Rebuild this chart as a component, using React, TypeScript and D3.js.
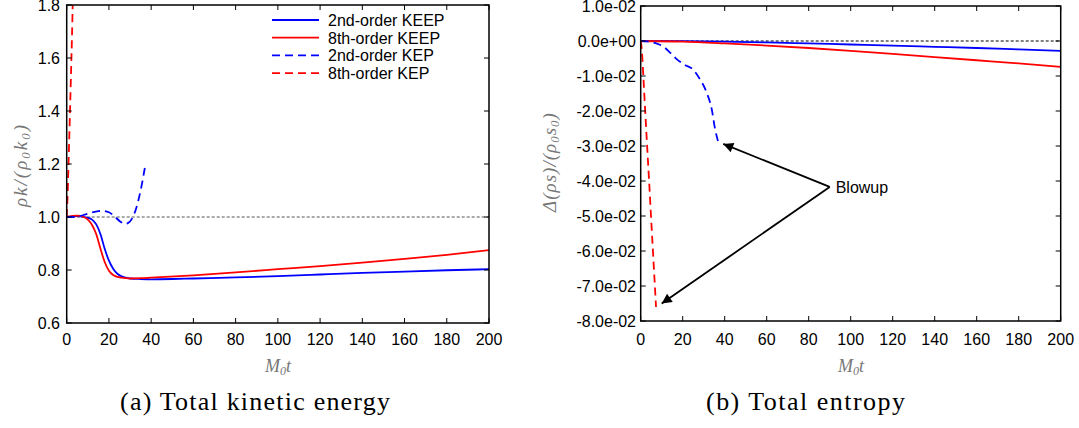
import React from "react";
import * as d3 from "d3";

// ---------- Data ----------
// Panel (a): total kinetic energy
const keT2 = [0, 5, 10, 12, 14, 16, 18, 20, 22, 24, 26, 28, 30, 35, 40, 50, 60, 80, 100, 120, 140, 160, 180, 200];
const keKEEP2 = [1.0, 1.003, 0.997, 0.99, 0.972, 0.935, 0.88, 0.835, 0.805, 0.786, 0.776, 0.771, 0.768, 0.766, 0.765, 0.766, 0.768, 0.772, 0.777, 0.783, 0.789, 0.794, 0.799, 0.803];
const keT8 = [0, 5, 8, 10, 12, 14, 16, 18, 20, 22, 24, 26, 28, 30, 35, 40, 60, 80, 100, 120, 140, 160, 180, 200];
const keKEEP8 = [1.0, 1.005, 1.0, 0.99, 0.97, 0.935, 0.88, 0.83, 0.797, 0.781, 0.774, 0.771, 0.769, 0.768, 0.769, 0.771, 0.78, 0.791, 0.803, 0.815, 0.828, 0.842, 0.857, 0.875];
const keTKEP2 = [0, 3, 6, 9, 12, 15, 17, 20, 23, 25, 27.5, 29, 31, 33, 35, 37];
const keKEP2 = [1.0, 1.0, 1.003, 1.01, 1.017, 1.022, 1.023, 1.018, 1.0, 0.985, 0.974, 0.977, 0.995, 1.035, 1.1, 1.185];
const keTKEP8 = [0, 0.5, 1, 1.5, 2, 2.5, 3];
const keKEP8 = [1.0, 1.1, 1.24, 1.38, 1.53, 1.68, 1.86];
const keYTicks = [0.6, 0.8, 1.0, 1.2, 1.4, 1.6, 1.8];

// Panel (b): total entropy (units of 1e-2)
const enTKEEP = [0, 20, 40, 60, 80, 100, 120, 140, 160, 180, 200];
const enKEEP2 = [0, -0.005, -0.02, -0.04, -0.07, -0.1, -0.13, -0.165, -0.2, -0.24, -0.28];
const enKEEP8 = [0, -0.02, -0.07, -0.13, -0.2, -0.28, -0.37, -0.46, -0.55, -0.64, -0.74];
const enTKEP2 = [0, 3, 5, 8, 10.6, 14, 17, 21, 25, 28.2, 31.4, 33.8, 35.4, 37];
const enKEP2 = [0, -0.01, -0.03, -0.08, -0.15, -0.33, -0.51, -0.68, -0.82, -1.09, -1.47, -1.94, -2.51, -2.9];
const enTKEP8 = [0, 0.6, 1.25, 2.5, 4, 5, 6.2, 7.3];
const enKEP8 = [0, -0.3, -1.0, -2.4, -4.0, -5.1, -6.4, -7.6];
const enYTicks = [1, 0, -1, -2, -3, -4, -5, -6, -7, -8];

const xTicks = [0, 20, 40, 60, 80, 100, 120, 140, 160, 180, 200];

const legendLabels = ["2nd-order KEEP", "8th-order KEEP", "2nd-order KEP", "8th-order KEP"];

// arrows: tail (t, v) -> head (t, v), v in 1e-2
const arrowTail = [90, -4.17];
const arrowHeads = [[39.3, -2.94], [10, -7.5]];

const BLUE = "#0000ff";
const RED = "#ff0000";

type Series = { t: number[]; v: number[]; color: string; dash?: string };

function Panel(props: {
  x0: number; x1: number; y0: number; y1: number;
  yDomain: [number, number]; yTicks: number[]; fmt: (v: number) => string;
  series: Series[]; refValue: number; refColor: string; id: string;
  labelRight: number; children?: React.ReactNode;
  extra?: (xs: d3.ScaleLinear<number, number>, ys: d3.ScaleLinear<number, number>) => React.ReactNode;
}) {
  const { x0, x1, y0, y1 } = props;
  const xs = d3.scaleLinear().domain([0, 200]).range([x0, x1]);
  const ys = d3.scaleLinear().domain(props.yDomain).range([y1, y0]);
  const line = d3.line<[number, number]>().x(d => xs(d[0])).y(d => ys(d[1])).curve(d3.curveMonotoneX);
  const tl = 5;
  return (
    <g>
      <defs>
        <clipPath id={props.id}>
          <rect x={x0} y={y0} width={x1 - x0} height={y1 - y0} />
        </clipPath>
      </defs>
      <line x1={x0} x2={x1} y1={ys(props.refValue)} y2={ys(props.refValue)} stroke={props.refColor} strokeWidth={1} strokeDasharray="3,2" />
      <g clipPath={`url(#${props.id})`}>
        {props.series.map((s, i) => (
          <path key={i} d={line(s.t.map((t, j) => [t, s.v[j]] as [number, number])) || ""} fill="none" stroke={s.color} strokeWidth={1.8} strokeDasharray={s.dash} />
        ))}
      </g>
      <rect x={x0} y={y0} width={x1 - x0} height={y1 - y0} fill="none" stroke="#000" strokeWidth={1.5} />
      {xTicks.map(t => (
        <g key={t}>
          <line x1={xs(t)} x2={xs(t)} y1={y1} y2={y1 - tl} stroke="#000" strokeWidth={1} />
          <line x1={xs(t)} x2={xs(t)} y1={y0} y2={y0 + tl} stroke="#000" strokeWidth={1} />
          <text x={xs(t)} y={345} textAnchor="middle" fontSize={16} fontFamily="Liberation Sans, Arial, sans-serif">{t}</text>
        </g>
      ))}
      {props.yTicks.map(v => (
        <g key={v}>
          <line x1={x0} x2={x0 + tl} y1={ys(v)} y2={ys(v)} stroke="#000" strokeWidth={1} />
          <line x1={x1} x2={x1 - tl} y1={ys(v)} y2={ys(v)} stroke="#000" strokeWidth={1} />
          <text x={props.labelRight} y={ys(v) + 6} textAnchor="end" fontSize={16} fontFamily="Liberation Sans, Arial, sans-serif">{props.fmt(v)}</text>
        </g>
      ))}
      {props.extra ? props.extra(xs, ys) : null}
      {props.children}
    </g>
  );
}

export default function App() {
  const serif = "Liberation Serif, Times New Roman, serif";
  const lblColor = "#777";
  const keSeries: Series[] = [
    { t: keT2, v: keKEEP2, color: BLUE },
    { t: keT8, v: keKEEP8, color: RED },
    { t: keTKEP2, v: keKEP2, color: BLUE, dash: "8,5" },
    { t: keTKEP8, v: keKEP8, color: RED, dash: "8,5" },
  ];
  const enSeries: Series[] = [
    { t: enTKEEP, v: enKEEP2, color: BLUE },
    { t: enTKEEP, v: enKEEP8, color: RED },
    { t: enTKEP2, v: enKEP2, color: BLUE, dash: "8,5" },
    { t: enTKEP8, v: enKEP8, color: RED, dash: "8,5" },
  ];
  const legendColors = [BLUE, RED, BLUE, RED];
  const legendDash = [undefined, undefined, "8,5", "8,5"];
  const fmtE = (k: number) => (k === 0 ? "0.0e+00" : `${k < 0 ? "-" : ""}${Math.abs(k)}.0e-02`);

  return (
    <svg width={1079} height={428} style={{ display: "block", position: "absolute", left: 0, top: 0, background: "#fff" }}>
      <defs>
        <marker id="ah" viewBox="0 0 10 10" refX={10} refY={5} markerWidth={16} markerHeight={10} markerUnits="userSpaceOnUse" orient="auto">
          <path d="M0,0 L10,5 L0,10 Z" fill="#000" />
        </marker>
      </defs>
      <Panel x0={66.7} x1={489} y0={5} y1={323} yDomain={[0.6, 1.8]} yTicks={keYTicks} fmt={v => v.toFixed(1)}
        series={keSeries} refValue={1.0} refColor="#555" id="clipA" labelRight={60}>
        {legendLabels.map((l, i) => (
          <g key={l}>
            <line x1={272} x2={319} y1={20 + i * 17.7} y2={20 + i * 17.7} stroke={legendColors[i]} strokeWidth={1.8} strokeDasharray={legendDash[i]} />
            <text x={328} y={26 + i * 17.7} fontSize={16} fontFamily="Liberation Sans, Arial, sans-serif">{l}</text>
          </g>
        ))}
      </Panel>
      <Panel x0={640.7} x1={1060.7} y0={6} y1={321} yDomain={[-8, 1]} yTicks={enYTicks} fmt={fmtE}
        series={enSeries} refValue={0} refColor="#000" id="clipB" labelRight={636}
        extra={(xs, ys) => (
          <g>
            {arrowHeads.map((h, i) => (
              <line key={i} x1={xs(arrowTail[0])} y1={ys(arrowTail[1])} x2={xs(h[0])} y2={ys(h[1])} stroke="#000" strokeWidth={1.8} markerEnd="url(#ah)" />
            ))}
            <text x={xs(arrowTail[0]) + 6} y={ys(arrowTail[1]) + 6} fontSize={16} fontFamily="Liberation Sans, Arial, sans-serif">Blowup</text>
          </g>
        )} />

      {/* axis labels */}
      <text transform="translate(27,165) rotate(-90)" textAnchor="middle" fontSize={19} fontFamily={serif} fontStyle="italic" fill={lblColor} letterSpacing={2}>
        ρk/(ρ<tspan fontSize={13} dy={3}>0</tspan><tspan dy={-3}>k</tspan><tspan fontSize={13} dy={3}>0</tspan><tspan dy={-3}>)</tspan>
      </text>
      <text x={278} y={372} textAnchor="middle" fontSize={18} fontFamily={serif} fontStyle="italic" fill={lblColor}>
        M<tspan fontSize={12} dy={3}>0</tspan><tspan dy={-3}>t</tspan>
      </text>
      <text transform="translate(556,162) rotate(-90)" textAnchor="middle" fontSize={19} fontFamily={serif} fontStyle="italic" fill={lblColor} letterSpacing={1}>
        Δ(ρs)/(ρ<tspan fontSize={13} dy={3}>0</tspan><tspan dy={-3}>s</tspan><tspan fontSize={13} dy={3}>0</tspan><tspan dy={-3}>)</tspan>
      </text>
      <text x={851} y={372} textAnchor="middle" fontSize={18} fontFamily={serif} fontStyle="italic" fill={lblColor}>
        M<tspan fontSize={12} dy={3}>0</tspan><tspan dy={-3}>t</tspan>
      </text>

      {/* captions */}
      <text x={120} y={410} fontSize={26} fontFamily={serif} textLength={270} lengthAdjust="spacing">(a) Total kinetic energy</text>
      <text x={706} y={410} fontSize={26} fontFamily={serif} textLength={199} lengthAdjust="spacing">(b) Total entropy</text>
    </svg>
  );
}
